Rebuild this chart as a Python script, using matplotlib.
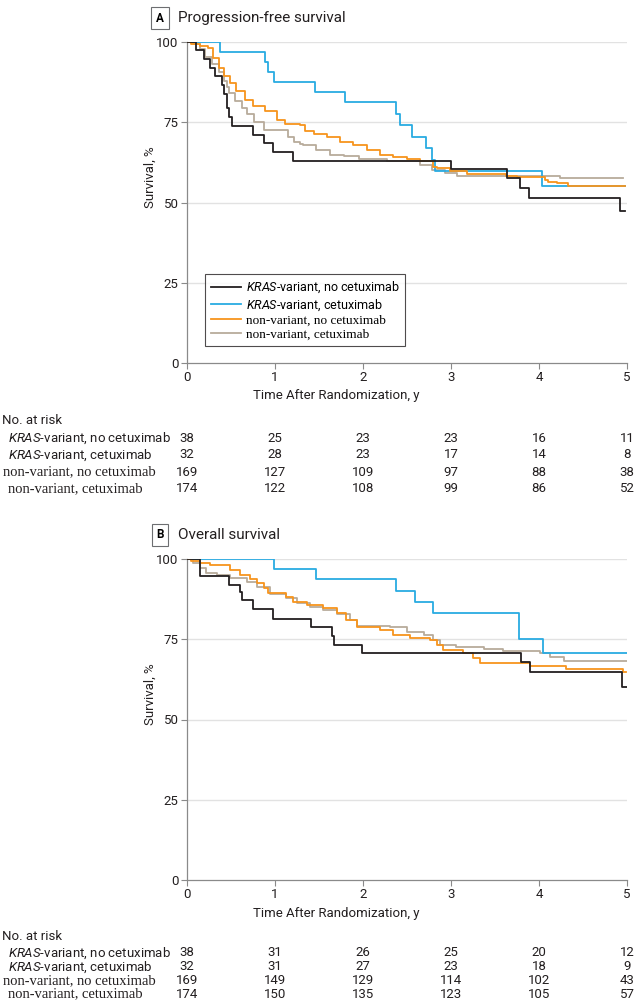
import matplotlib
matplotlib.use("Agg")
import matplotlib.pyplot as plt
from matplotlib import font_manager
from matplotlib.transforms import blended_transform_factory

# -----------------------------------
# fonts
# -----------------------------------
names = {f.name for f in font_manager.fontManager.ttflist}
SANS = "Liberation Sans Narrow" if "Liberation Sans Narrow" in names else "Roboto"
SERIF = "Liberation Serif"
plt.rcParams["font.family"] = [SANS, "DejaVu Sans"]
plt.rcParams["mathtext.fontset"] = "custom"
plt.rcParams["mathtext.rm"] = SANS
plt.rcParams["mathtext.it"] = SANS + ":italic"

# -----------------------------------
# data
# -----------------------------------
labels = [r"$\it{KRAS}$-variant, no cetuximab", r"$\it{KRAS}$-variant, cetuximab",
          "non-variant, no cetuximab", "non-variant, cetuximab"]
colors = ["#231f20", "#29abe2", "#f7941d", "#b8ab9b"]
years = [0, 1, 2, 3, 4, 5]

# Panel A: progression-free survival
pfs_t_kras_no = [0, 0.10, 0.19, 0.26, 0.32, 0.40, 0.42, 0.45, 0.48, 0.51, 0.75, 0.88, 0.98, 1.20, 3.00, 3.64, 3.78, 3.89, 4.92, 4.98]
pfs_s_kras_no = [100, 97.4, 94.8, 92.0, 89.3, 86.5, 83.7, 79.5, 76.5, 73.7, 71.0, 68.4, 65.8, 63.0, 60.3, 57.5, 54.6, 51.5, 47.4, 47.4]
pfs_t_kras_cx = [0, 0.37, 0.89, 0.92, 0.99, 1.46, 1.80, 2.37, 2.42, 2.56, 2.72, 2.78, 2.82, 4.03, 4.98]
pfs_s_kras_cx = [100, 96.9, 93.75, 90.6, 87.5, 84.4, 81.25, 77.5, 74.0, 70.5, 67.0, 63.2, 59.7, 55.2, 55.2]
pfs_t_non_no = [0, 0.05, 0.15, 0.24, 0.30, 0.36, 0.42, 0.49, 0.56, 0.66, 0.75, 0.89, 1.02, 1.11, 1.28, 1.34, 1.44, 1.59, 1.74, 1.89,
                2.04, 2.19, 2.34, 2.50, 2.65, 2.80, 2.84, 2.99, 3.18, 3.63, 3.75, 4.07, 4.10, 4.20, 4.33, 4.98]
pfs_s_non_no = [100, 99.4, 98.8, 98.0, 95.0, 92.0, 89.3, 87.2, 84.6, 82.0, 80.0, 78.4, 75.8, 74.6, 74.0, 72.4, 71.2, 70.4, 69.0, 68.0,
                66.5, 64.9, 64.2, 63.5, 62.8, 61.2, 60.7, 59.9, 58.9, 58.3, 57.8, 57.0, 56.5, 56.0, 55.2, 55.2]
pfs_t_non_cx = [0, 0.07, 0.15, 0.20, 0.28, 0.36, 0.42, 0.45, 0.48, 0.55, 0.62, 0.68, 0.76, 0.87, 1.15, 1.22, 1.28, 1.32, 1.47, 1.63,
                1.78, 1.95, 2.27, 2.65, 2.78, 2.93, 3.07, 4.24, 4.95]
pfs_s_non_cx = [100, 99.4, 97.7, 95.4, 93.0, 90.8, 88.0, 86.0, 84.0, 81.5, 79.5, 77.7, 75.0, 72.5, 70.5, 69.0, 68.1, 67.8, 66.5, 64.9,
                64.4, 63.5, 62.9, 61.7, 60.1, 59.1, 58.3, 57.5, 57.5]

# Panel B: overall survival
os_t_kras_no = [0, 0.15, 0.48, 0.60, 0.63, 0.75, 0.98, 1.41, 1.65, 1.67, 1.99, 3.80, 3.90, 4.94, 5.0]
os_s_kras_no = [100, 94.7, 91.9, 89.8, 87.2, 84.4, 81.4, 78.7, 76.0, 73.2, 70.8, 67.9, 64.8, 60.2, 60.2]
os_t_kras_cx = [0, 0.99, 1.47, 2.38, 2.59, 2.80, 3.77, 4.05, 5.0]
os_s_kras_cx = [100, 96.8, 93.7, 90.1, 86.7, 83.3, 75.0, 70.6, 70.6]
os_t_non_no = [0, 0.05, 0.15, 0.26, 0.49, 0.60, 0.72, 0.79, 0.87, 0.92, 1.13, 1.21, 1.36, 1.55, 1.70, 1.81, 1.93, 2.19, 2.34, 2.53,
               2.76, 2.84, 2.91, 3.14, 3.25, 3.33, 3.90, 4.31, 4.95, 4.99]
os_s_non_no = [100, 99.5, 98.9, 98.1, 96.6, 95.0, 93.7, 92.4, 90.9, 89.3, 88.3, 86.7, 85.7, 84.6, 83.1, 81.0, 78.9, 77.9, 76.3, 75.3,
               74.8, 73.2, 71.7, 70.6, 69.1, 67.7, 66.8, 65.8, 64.9, 64.9]
os_t_non_cx = [0, 0.07, 0.15, 0.22, 0.34, 0.49, 0.68, 0.79, 0.94, 1.13, 1.25, 1.40, 1.55, 1.70, 1.85, 1.93, 2.31, 2.50, 2.69, 2.80,
               2.88, 3.06, 3.37, 3.59, 4.01, 4.13, 4.28, 5.0]
os_s_non_cx = [100, 98.9, 97.1, 95.7, 95.0, 94.0, 92.9, 91.4, 89.1, 87.8, 86.2, 85.1, 84.1, 82.9, 81.0, 79.1, 78.7, 77.4, 76.3, 74.8,
               73.2, 72.7, 71.9, 71.4, 70.7, 69.4, 68.3, 68.3]

# numbers at risk
risk_pfs = [[38, 25, 23, 23, 16, 11], [32, 28, 23, 17, 14, 8],
            [169, 127, 109, 97, 88, 38], [174, 122, 108, 99, 86, 52]]
risk_os = [[38, 31, 26, 25, 20, 12], [32, 31, 27, 23, 18, 9],
           [169, 149, 129, 114, 102, 43], [174, 150, 135, 123, 105, 57]]

pfs_curves = [(pfs_t_kras_no, pfs_s_kras_no), (pfs_t_kras_cx, pfs_s_kras_cx),
              (pfs_t_non_no, pfs_s_non_no), (pfs_t_non_cx, pfs_s_non_cx)]
os_curves = [(os_t_kras_no, os_s_kras_no), (os_t_kras_cx, os_s_kras_cx),
             (os_t_non_no, os_s_non_no), (os_t_non_cx, os_s_non_cx)]

# -----------------------------------
# figure
# -----------------------------------
W, H = 634, 1002
fig = plt.figure(figsize=(W / 100, H / 100), dpi=100)


def fy(py):
    return 1 - py / H


def panel(top_px, letter, title, curves, risk, show_legend, row_y):
    bottom_px = top_px + 321
    ax = fig.add_axes([187 / W, fy(bottom_px), 440 / W, 321 / H])
    zorders = [7, 5, 6, 4]
    for i in [3, 2, 1, 0]:
        t, s = curves[i]
        ax.step(t, s, where="post", color=colors[i], lw=1.3, label=labels[i], zorder=zorders[i])
    ax.set_xlim(0, 5)
    ax.set_ylim(0, 100)
    ax.set_xticks(years)
    ax.set_yticks([0, 25, 50, 75, 100])
    for v in [25, 50, 75, 100]:
        ax.axhline(v, color="#e2e2e2", lw=1.0, zorder=1)
    for sp in ["top", "right"]:
        ax.spines[sp].set_visible(False)
    for sp in ["left", "bottom"]:
        ax.spines[sp].set_color("#8a8a8a")
        ax.spines[sp].set_linewidth(0.9)
    ax.tick_params(colors="#8a8a8a", labelcolor="#231f20", labelsize=9.5, length=4, width=0.8, pad=2)
    ax.set_ylabel("Survival, %", fontsize=9.5, color="#231f20")
    ax.yaxis.set_label_coords(-0.068, 0.58)

    fig.text(160 / W, fy(top_px - 24), letter, fontsize=8.5, fontweight="bold", ha="center", va="center",
             bbox=dict(boxstyle="square,pad=0.4", fc="white", ec="#6d6e71", lw=0.8))
    fig.text(178 / W, fy(top_px - 24), title, fontsize=11, ha="left", va="center", color="#231f20")
    fig.text(336 / W, fy(bottom_px + 33), "Time After Randomization, y", fontsize=9.5, ha="center",
             va="center", color="#231f20")

    if show_legend:
        h, l = ax.get_legend_handles_labels()
        idx = [l.index(lab) for lab in labels]
        leg = ax.legend([h[k] for k in idx], [l[k] for k in idx], loc="upper left",
                        bbox_to_anchor=(0.041, 0.277), borderaxespad=0, fontsize=9,
                        frameon=True, fancybox=False, handlelength=2.4, handletextpad=0.4,
                        labelspacing=0.15, borderpad=0.45)
        leg.get_frame().set_edgecolor("#231f20")
        leg.get_frame().set_linewidth(0.8)
        for txt in leg.get_texts()[2:]:
            txt.set_family(SERIF)
            txt.set_fontsize(9.5)

    # numbers at risk table
    tr = blended_transform_factory(ax.transData, fig.transFigure)
    fig.text(2 / W, fy(row_y[0]), "No. at risk", fontsize=9.5, ha="left", va="center", color="#231f20")
    for r, row in enumerate(risk):
        yy = fy(row_y[r + 1])
        if r < 2:
            fig.text(8 / W, yy, labels[r], fontsize=9.5, ha="left", va="center", color="#231f20")
        else:
            fig.text((3 if r == 2 else 8) / W, yy, labels[r], fontsize=10.5, ha="left", va="center",
                     color="#231f20", family=[SERIF, "DejaVu Serif"])
        for x, n in zip(years, row):
            ax.text(x, yy, str(n), transform=tr, fontsize=9.5, ha="center", va="center", color="#231f20")
    return ax


panel(42, "A", "Progression-free survival", pfs_curves, risk_pfs, True, [421, 438, 455, 472, 489])
panel(559, "B", "Overall survival", os_curves, risk_os, False, [937, 953, 967, 981, 994])

fig.savefig("out.png", dpi=100)
